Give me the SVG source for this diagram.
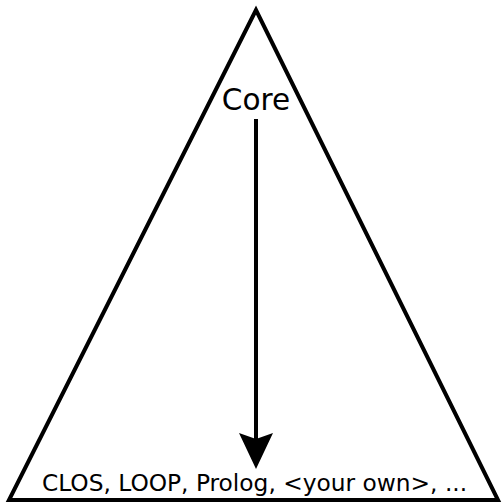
<svg xmlns="http://www.w3.org/2000/svg" width="502" height="504" viewBox="0 0 502 504">
<defs>
<style>
.t{font-family:"DejaVu Sans",sans-serif;fill:#000}
</style>
</defs>
<rect width="502" height="504" fill="#fff"/>
<g id="triangle">
<polygon points="256,10 9,500 498,500" fill="none" stroke="#000" stroke-width="4" stroke-linejoin="miter"/>
</g>
<g id="core">
<text class="t" x="256" y="110" font-size="29.5" text-anchor="middle">Core</text>
</g>
<g id="bottom">
<text class="t" x="254.5" y="491" font-size="23.3" text-anchor="middle">CLOS, LOOP, Prolog, &lt;your own&gt;, ...</text>
</g>
<g id="connectors">
<line x1="256" y1="119" x2="256" y2="440" stroke="#000" stroke-width="4"/>
<path d="M256,469 L239,433 L256,439 L273,433 Z" fill="#000"/>
</g>
</svg>
